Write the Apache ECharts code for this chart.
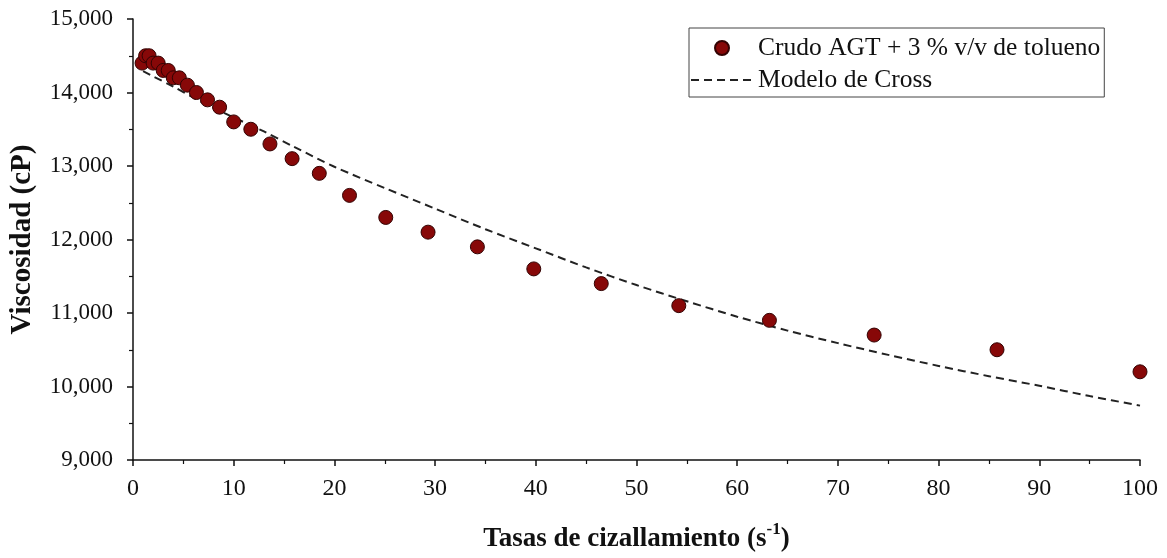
<!DOCTYPE html>
<html>
<head>
<meta charset="utf-8">
<script src="https://cdn.jsdelivr.net/npm/echarts@6/dist/echarts.min.js"></script>
<style>
  html, body { margin: 0; padding: 0; background: #fff; }
  #chart { width: 1167px; height: 558px; }
</style>
</head>
<body>
<div id="chart"></div>
<script>
// Measured shear rates (s^-1) and viscosities (cP)
const shearRates = [0.9, 1.25, 1.6, 2.0, 2.5, 3.0, 3.5, 4.0, 4.6, 5.4, 6.3, 7.4, 8.6, 10.0,
  11.7, 13.6, 15.8, 18.5, 21.5, 25.1, 29.3, 34.2, 39.8, 46.5, 54.2, 63.2, 73.6, 85.8, 100];
const viscosities = [14400, 14500, 14500, 14400, 14400, 14300, 14300, 14200, 14200, 14100,
  14000, 13900, 13800, 13600, 13500, 13300, 13100, 12900, 12600, 12300, 12100, 11900,
  11600, 11400, 11100, 10900, 10700, 10500, 10200];

// Cross model curve
const modelRates = [1, 2, 4, 6, 8, 10, 13, 16, 20, 25, 30, 35, 40, 45, 50, 55, 60, 65,
  70, 75, 80, 85, 90, 95, 100];
const modelViscosities = [14290, 14220, 14080, 13930, 13790, 13660, 13470, 13260, 12990,
  12700, 12420, 12140, 11880, 11620, 11380, 11160, 10950, 10760, 10590, 10430, 10280,
  10140, 10010, 9870, 9740];

const seriesNames = ['Crudo AGT + 3 % v/v de tolueno', 'Modelo de Cross'];

const serif = '"Liberation Serif", "Times New Roman", serif';
const ink = '#111';

const chart = echarts.init(document.getElementById('chart'), null, { renderer: 'canvas' });

chart.setOption({
  backgroundColor: '#ffffff',
  animation: false,
  grid: { left: 133, right: 27, top: 19, bottom: 96 },
  legend: {
    orient: 'vertical',
    left: 689,
    top: 28,
    padding: [6, 4, 3, 1],
    itemGap: 4,
    itemWidth: 62,
    itemHeight: 14,
    borderColor: '#444',
    borderWidth: 1,
    textStyle: { fontFamily: serif, fontSize: 25.5, color: ink, lineHeight: 28 },
    data: [
      { name: seriesNames[0], icon: 'circle' },
      { name: seriesNames[1], itemStyle: { opacity: 0 } }
    ]
  },
  xAxis: {
    type: 'value',
    min: 0,
    max: 100,
    interval: 10,
    name: '{b|Tasas de cizallamiento (s}{sup|-1}{b|)}',
    nameLocation: 'middle',
    nameGap: 58,
    nameTextStyle: {
      rich: {
        b: { fontFamily: serif, fontSize: 27, fontWeight: 'bold', color: ink, padding: [8, 0, 0, 0] },
        sup: { fontFamily: serif, fontSize: 17, fontWeight: 'bold', color: ink, padding: [0, 0, 12, 0] }
      }
    },
    axisLine: { lineStyle: { color: ink, width: 1.5 } },
    axisTick: { show: true, inside: false, length: 6, lineStyle: { color: ink, width: 1.5 } },
    minorTick: { show: true, splitNumber: 2, length: 4, lineStyle: { color: ink, width: 1.2 } },
    splitLine: { show: false },
    axisLabel: { fontFamily: serif, fontSize: 24, color: ink, margin: 17 }
  },
  yAxis: {
    type: 'value',
    min: 9000,
    max: 15000,
    interval: 1000,
    name: 'Viscosidad (cP)',
    nameLocation: 'middle',
    nameGap: 96,
    nameTextStyle: { fontFamily: serif, fontSize: 29, fontWeight: 'bold', color: ink },
    axisLine: { show: true, lineStyle: { color: ink, width: 1.5 } },
    axisTick: { show: true, inside: false, length: 6, lineStyle: { color: ink, width: 1.5 } },
    minorTick: { show: true, splitNumber: 2, length: 4, lineStyle: { color: ink, width: 1.2 } },
    splitLine: { show: false },
    axisLabel: {
      fontFamily: serif, fontSize: 23, color: ink, margin: 20,
      formatter: v => v.toLocaleString('en-US')
    }
  },
  series: [
    {
      name: seriesNames[1],
      type: 'line',
      data: modelRates.map((x, i) => [x, modelViscosities[i]]),
      smooth: 0.3,
      symbol: 'none',
      z: 1,
      itemStyle: { color: '#222' },
      lineStyle: { color: '#222', width: 2, type: [8, 5] }
    },
    {
      name: seriesNames[0],
      type: 'scatter',
      data: shearRates.map((x, i) => [x, viscosities[i]]),
      symbol: 'circle',
      symbolSize: 14,
      z: 2,
      itemStyle: { color: '#870808', borderColor: '#330303', borderWidth: 1, opacity: 1 }
    }
  ]
});
</script>
</body>
</html>
